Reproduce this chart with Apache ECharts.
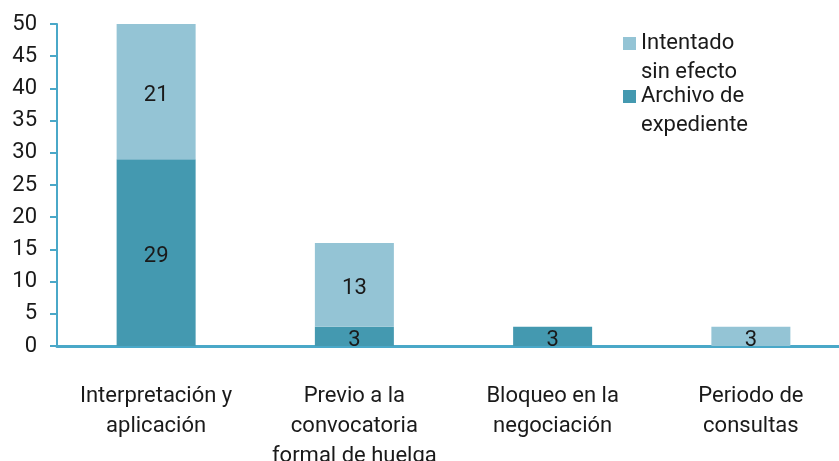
<!DOCTYPE html>
<html>
<head>
<meta charset="utf-8" />
<title>Conflictos</title>
<script src="https://cdn.jsdelivr.net/npm/echarts@6/dist/echarts.min.js"></script>
</head>
<body style="margin:0;">
<div id="echart" style="width:839px;height:461px;"></div>
<script type="text/javascript">
// categorias del eje x
var categorias = ['Interpretación y\naplicación', 'Previo a la\nconvocatoria\nformal de huelga', 'Bloqueo en la\nnegociación', 'Periodo de\nconsultas'];
var archivoArr = [29, 3, 3, 0];     // Archivo de expediente
var intentadoArr = [21, 13, 0, 3];  // Intentado sin efecto
var yTicks = { min: 0, max: 50, interval: 5 };

var ejeColor = '#4aa8c8';
var oscuro = '#4499b0';
var claro = '#94c4d5';
var fuente = 'Roboto';
var tam = 22;

var myChart = echarts.init(document.getElementById('echart'));

function labelFmt(p) {
    return p.value ? p.value : '';
}

var option = {
    animation: false,
    textStyle: { fontFamily: fuente },
    grid: { left: 57, right: -11, top: 24, bottom: 115, outerBoundsMode: 'none' },
    legend: [
        {
            data: ['Intentado sin efecto'],
            left: 623, top: 0, padding: 0,
            itemWidth: 13, itemHeight: 13,
            icon: 'rect',
            formatter: function () { return ' \nIntentado\nsin efecto'; },
            textStyle: { fontSize: tam, color: '#1a1a1a', lineHeight: 29, fontFamily: fuente }
        },
        {
            data: ['Archivo de expediente'],
            left: 623, top: 53, padding: 0,
            itemWidth: 13, itemHeight: 13,
            icon: 'rect',
            formatter: function () { return ' \nArchivo de\nexpediente'; },
            textStyle: { fontSize: tam, color: '#1a1a1a', lineHeight: 29, fontFamily: fuente }
        }
    ],
    xAxis: {
        type: 'category',
        data: categorias,
        axisLine: { lineStyle: { color: ejeColor, width: 3 } },
        axisTick: { show: false },
        axisLabel: {
            interval: 0,
            margin: 35,
            fontSize: tam,
            lineHeight: 30,
            color: '#1a1a1a',
            fontFamily: fuente
        }
    },
    yAxis: {
        type: 'value',
        min: yTicks.min,
        max: yTicks.max,
        interval: yTicks.interval,
        splitLine: { show: false },
        axisLine: { show: true, lineStyle: { color: ejeColor, width: 2 } },
        axisTick: { show: true, length: 7, lineStyle: { color: ejeColor, width: 2 } },
        axisLabel: { margin: 20, fontSize: tam, color: '#1a1a1a', fontFamily: fuente }
    },
    series: [
        {
            name: 'Archivo de expediente',
            type: 'bar',
            stack: 'total',
            barWidth: 79,
            data: archivoArr,
            itemStyle: { color: oscuro },
            label: { show: true, position: 'inside', offset: [0, 4], fontSize: tam, color: '#1a1a1a', formatter: labelFmt, fontFamily: fuente }
        },
        {
            name: 'Intentado sin efecto',
            type: 'bar',
            stack: 'total',
            barWidth: 79,
            data: intentadoArr,
            itemStyle: { color: claro },
            label: { show: true, position: 'inside', offset: [0, 4], fontSize: tam, color: '#1a1a1a', formatter: labelFmt, fontFamily: fuente }
        }
    ]
};
option && myChart.setOption(option);
</script>
</body>
</html>
